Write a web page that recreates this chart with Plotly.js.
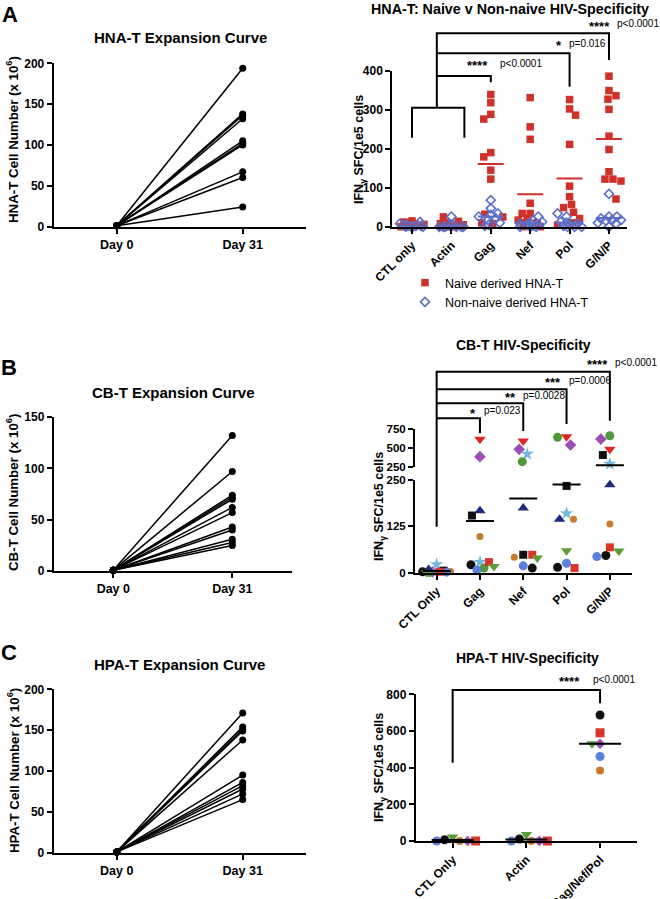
<!DOCTYPE html>
<html><head><meta charset="utf-8">
<script src="https://cdn.plot.ly/plotly-3.0.1.min.js"></script>
<style>html,body{margin:0;padding:0;background:#fff}#chart{width:660px;height:899px}</style>
</head><body><div id="chart"></div>
<script>
// ---------------- DATA ----------------
const days = ['Day 0', 'Day 31'];
const hnaDay0  = [1, 1, 1, 1, 1, 1, 1, 1, 1, 1];
const hnaDay31 = [194, 138, 136, 132, 105, 102, 100, 67, 60, 24];
const cbDay0   = [1, 1, 1, 1, 1, 1, 1, 1, 1, 1, 1, 1];
const cbDay31  = [132, 97, 74, 72, 70, 62, 57, 43, 40, 31, 28, 25];
const hpaDay0  = [1, 1, 1, 1, 1, 1, 1, 1, 1, 1, 1];
const hpaDay31 = [171, 154, 151, 149, 138, 95, 86, 82, 78, 72, 65];

const hnaCategories = ['CTL only', 'Actin', 'Gag', 'Nef', 'Pol', 'G/N/P'];
const naiveCtl   = [15, 12, 10, 8, 6, 5, 3, 2, 2, 0, 0, 0];
const naiveActin = [25, 14, 10, 8, 5, 4, 3, 2, 0, 0, 0, 0];
const naiveGag   = [339, 318, 288, 276, 190, 179, 145, 122, 32, 25, 10, 8];
const naiveNef   = [331, 256, 224, 60, 34, 34, 21, 17, 10, 10, 0, 0];
const naivePol   = [326, 302, 286, 211, 104, 77, 57, 49, 37, 21, 10, 4];
const naiveGnp   = [386, 349, 336, 327, 301, 232, 198, 141, 122, 122, 117, 71];
const nonNaiveCtl   = [12, 8, 5, 3, 2, 2, 0, 0, 0, 0];
const nonNaiveActin = [26, 6, 4, 2, 0, 0, 0, 0, 0, 0];
const nonNaiveGag   = [68, 47, 34, 30, 26, 21, 17, 10, 5, 2];
const nonNaiveNef   = [26, 17, 12, 10, 8, 5, 3, 0, 0, 0];
const nonNaivePol   = [34, 26, 12, 10, 8, 5, 2, 0, 0, 0];
const nonNaiveGnp   = [84, 26, 26, 21, 17, 17, 15, 10, 8, 0];

const cbCategories = ['CTL Only', 'Gag', 'Nef', 'Pol', 'G/N/P'];
// donor order: black circle, red tri-down, purple diamond, sky star, green circle,
// black square, navy tri-up, orange circle, blue circle, red square, green tri-down
const cbCtl = [2, 3, 2, 22, 0, 5, 8, 3, 1, 2, 0];
const cbGag = [21, 612, 388, 28, 12, 154, 167, 97, 7, 28, 16];
const cbNef = [12, 590, 483, 422, 323, 48, 174, 41, 18, 48, 39];
const cbPol = [14, 647, 539, 160, 638, 234, 144, 144, 25, 12, 59];
const cbGnp = [46, 483, 616, 293, 659, 409, 237, 131, 43, 68, 58];

const hpaCategories = ['CTL Only', 'Actin', 'Gag/Nef/Pol'];
// donor order: black circle, orange circle, purple diamond, blue circle, red square, green tri-down
const hpaCtl   = [7, 0, 0, 0, 0, 22];
const hpaActin = [11, 0, 0, 0, 0, 35];
const hpaGnp   = [687, 384, 530, 461, 590, 530];

// ---------------- STYLE / GEOMETRY ----------------
const FONT = 'Liberation Sans, Arial, Helvetica, sans-serif';
const W = 660, H = 899;
const px = p => p / W;
const py = p => 1 - p / H;
const mean = a => a.reduce((s, v) => s + v, 0) / a.length;

const G = {
  aL: {x: [53.7, 305.7], xr: [-0.5, 1.5], y: [63.3, 226.5], yr: [0, 200]},
  aR: {x: [392.3, 626.7], xr: [-0.5, 5.45], y: [70.7, 226.7], yr: [0, 400]},
  bL: {x: [53.8, 291.8], xr: [-0.5, 1.5], y: [417, 571.2], yr: [0, 150]},
  bR: {x: [415, 631.5], xr: [-0.5, 4.5], y: [480, 572.5], yr: [0, 250]},
  bRu: {y: [428.7, 467.3], yr: [250, 750]},
  cL: {x: [53.7, 305.7], xr: [-0.5, 1.5], y: [689.3, 852.7], yr: [0, 200]},
  cR: {x: [415.8, 636.9], xr: [-0.5, 2.5], y: [694.3, 841], yr: [0, 800]}
};
const yPix = (g, v) => g.y[1] - (v - g.yr[0]) / (g.yr[1] - g.yr[0]) * (g.y[1] - g.y[0]);
const pxPerCat = g => (g.x[1] - g.x[0]) / (g.xr[1] - g.xr[0]);

function swarm(ys, diam, maxHalf) {
  const order = ys.map((y, i) => i).sort((a, b) => ys[a] - ys[b]);
  const off = new Array(ys.length).fill(0);
  const placed = [];
  order.forEach((i, n) => {
    let best = 0, bestD = -1, found = false;
    for (let k = 0; k <= maxHalf && !found; k += 1) {
      const cands = k === 0 ? [0] : (n % 2 ? [-k, k] : [k, -k]);
      for (const s of cands) {
        let m = Infinity;
        for (const p of placed) m = Math.min(m, Math.hypot(p.x - s, p.y - ys[i]));
        if (m >= diam) { best = s; found = true; break; }
        if (m > bestD + 0.75) { bestD = m; best = s; }
      }
    }
    off[i] = best; placed.push({x: best, y: ys[i]});
  });
  return off;
}

const traces = [];
const noHover = {hoverinfo: 'skip', cliponaxis: false};

// ---------- left expansion panels ----------
function expansion(d0, d31, xa, ya) {
  d0.forEach((v, i) => traces.push(Object.assign({
    type: 'scatter', mode: 'lines+markers', x: days, y: [v, d31[i]], xaxis: xa, yaxis: ya,
    line: {color: '#000', width: 1.5}, marker: {color: '#000', size: 7}, showlegend: false
  }, noHover)));
}
expansion(hnaDay0, hnaDay31, 'x', 'y');
expansion(cbDay0, cbDay31, 'x3', 'y3');
expansion(hpaDay0, hpaDay31, 'x5', 'y6');

// ---------- A right ----------
const naive = [naiveCtl, naiveActin, naiveGag, naiveNef, naivePol, naiveGnp];
const nonNaive = [nonNaiveCtl, nonNaiveActin, nonNaiveGag, nonNaiveNef, nonNaivePol, nonNaiveGnp];
const RED = '#cf302a', BLUE = '#5b6fc8';
{
  const g = G.aR, ppc = pxPerCat(g);
  const nx = [], ny = [], bx = [], by = [];
  naive.forEach((arr, c) => {
    const all = arr.concat(nonNaive[c]);
    const offs = swarm(all.map(v => yPix(g, v)), 8, 12);
    all.forEach((v, i) => {
      if (i < arr.length) { nx.push(c + offs[i] / ppc); ny.push(v); }
      else { bx.push(c + offs[i] / ppc); by.push(v); }
    });
  });
  traces.push(Object.assign({type: 'scatter', mode: 'markers', x: nx, y: ny, xaxis: 'x2', yaxis: 'y2',
    name: 'Naive derived HNA-T', marker: {symbol: 'square', size: 7.5, color: RED}, showlegend: true}, noHover));
  traces.push(Object.assign({type: 'scatter', mode: 'markers', x: bx, y: by, xaxis: 'x2', yaxis: 'y2',
    name: 'Non-naive derived HNA-T', marker: {symbol: 'diamond-open', size: 7, color: BLUE, line: {width: 1.6, color: BLUE}}, showlegend: true}, noHover));
  const half = 13 / ppc;
  naive.forEach((arr, c) => {
    [[arr, RED], [nonNaive[c], BLUE]].forEach(([a, col]) => {
      const m = mean(a);
      traces.push(Object.assign({type: 'scatter', mode: 'lines', x: [c - half, c + half], y: [m, m],
        xaxis: 'x2', yaxis: 'y2', line: {color: col, width: 2}, showlegend: false}, noHover));
    });
  });
}

// ---------- B right ----------
const cbValues = [cbCtl, cbGag, cbNef, cbPol, cbGnp];
const cbStyle = [
  {symbol: 'circle', color: '#111111', size: 9},
  {symbol: 'triangle-down', color: '#e0261f', size: 10},
  {symbol: 'diamond', color: '#9a4fb7', size: 9},
  {symbol: 'star', color: '#74b8dc', size: 10},
  {symbol: 'circle', color: '#4f9a38', size: 9},
  {symbol: 'square', color: '#111111', size: 8},
  {symbol: 'triangle-up', color: '#1f2b7a', size: 10},
  {symbol: 'circle', color: '#c77a2e', size: 7},
  {symbol: 'circle', color: '#5b7fdc', size: 9},
  {symbol: 'square', color: '#d9352a', size: 8},
  {symbol: 'triangle-down', color: '#5b9e35', size: 10}
];
{
  const g = G.bR, gu = Object.assign({}, G.bRu), ppc = pxPerCat(g);
  const yB = v => v >= 250 ? yPix(gu, v) : yPix(g, v);
  const offs = cbValues.map(arr => swarm(arr.map(yB), 9, 14));
  cbStyle.forEach((st, d) => {
    const lx = [], ly = [], ux = [], uy = [];
    cbValues.forEach((arr, c) => {
      const v = arr[d], x = c + offs[c][d] / ppc;
      if (v >= 250) { ux.push(x); uy.push(v); } else { lx.push(x); ly.push(v); }
    });
    const mk = {symbol: st.symbol, color: st.color, size: st.size};
    traces.push(Object.assign({type: 'scatter', mode: 'markers', x: lx, y: ly, xaxis: 'x4', yaxis: 'y4', marker: mk, showlegend: false}, noHover));
    traces.push(Object.assign({type: 'scatter', mode: 'markers', x: ux, y: uy, xaxis: 'x4', yaxis: 'y5', marker: mk, showlegend: false}, noHover));
  });
  const half = 14 / ppc;
  cbValues.forEach((arr, c) => {
    const m = mean(arr);
    traces.push(Object.assign({type: 'scatter', mode: 'lines', x: [c - half, c + half], y: [m, m],
      xaxis: 'x4', yaxis: m >= 250 ? 'y5' : 'y4', line: {color: '#000', width: 2}, showlegend: false}, noHover));
  });
}

// ---------- C right ----------
const hpaValues = [hpaCtl, hpaActin, hpaGnp];
const hpaStyle = [
  {symbol: 'circle', color: '#111111', size: 9},
  {symbol: 'circle', color: '#c9782c', size: 8},
  {symbol: 'diamond', color: '#9a4fb7', size: 8},
  {symbol: 'circle', color: '#5b7fdc', size: 9},
  {symbol: 'square', color: '#d9352a', size: 9},
  {symbol: 'triangle-down', color: '#5b9e35', size: 10}
];
{
  const g = G.cR, ppc = pxPerCat(g);
  const offs = hpaValues.map(arr => swarm(arr.map(v => yPix(g, v)), 8, 26));
  hpaStyle.forEach((st, d) => {
    traces.push(Object.assign({type: 'scatter', mode: 'markers',
      x: hpaValues.map((arr, c) => c + offs[c][d] / ppc), y: hpaValues.map(arr => arr[d]),
      xaxis: 'x6', yaxis: 'y7', marker: {symbol: st.symbol, color: st.color, size: st.size}, showlegend: false}, noHover));
  });
  const half = 21 / ppc;
  hpaValues.forEach((arr, c) => {
    const m = mean(arr);
    traces.push(Object.assign({type: 'scatter', mode: 'lines', x: [c - half, c + half], y: [m, m],
      xaxis: 'x6', yaxis: 'y7', line: {color: '#000', width: 2}, showlegend: false}, noHover));
  });
}

// ---------------- LAYOUT ----------------
function baseAxis(size) {
  return {showgrid: false, zeroline: false, showline: true, linecolor: '#000', linewidth: 2,
    ticks: 'outside', ticklen: 5, tickwidth: 2, tickcolor: '#000', fixedrange: true,
    tickfont: {family: FONT, size: size, color: '#000', weight: 'bold'}};
}
function xAx(g, anchor, size, extra) {
  return Object.assign(baseAxis(size), {domain: [px(g.x[0]), px(g.x[1])], range: g.xr, anchor: anchor}, extra || {});
}
function yAx(g, anchor, size, tickvals, extra) {
  return Object.assign(baseAxis(size), {domain: [py(g.y[1]), py(g.y[0])], range: g.yr, anchor: anchor,
    tickmode: 'array', tickvals: tickvals, ticktext: tickvals.map(String)}, extra || {});
}
const catX = (cats) => ({type: 'linear', tickmode: 'array', tickvals: cats.map((c, i) => i), ticktext: cats, tickangle: -45});
const dayX = {type: 'category', categoryarray: days, categoryorder: 'array'};

const layout = {
  width: W, height: H, autosize: false, margin: {l: 0, r: 0, t: 0, b: 0},
  paper_bgcolor: '#fff', plot_bgcolor: 'rgba(0,0,0,0)',
  font: {family: FONT, color: '#000'},
  xaxis: xAx(G.aL, 'y', 12.5, dayX),
  yaxis: yAx(G.aL, 'x', 12, [0, 50, 100, 150, 200]),
  xaxis2: xAx(G.aR, 'y2', 12, catX(hnaCategories)),
  yaxis2: yAx(G.aR, 'x2', 12, [0, 100, 200, 300, 400]),
  xaxis3: xAx(G.bL, 'y3', 12.5, dayX),
  yaxis3: yAx(G.bL, 'x3', 12, [0, 50, 100, 150]),
  xaxis4: xAx(G.bR, 'y4', 12, catX(cbCategories)),
  yaxis4: yAx(G.bR, 'x4', 11.5, [0, 125, 250]),
  yaxis5: Object.assign(baseAxis(11.5), {domain: [py(G.bRu.y[1]), py(G.bRu.y[0])], range: G.bRu.yr, anchor: 'x4',
    tickmode: 'array', tickvals: [250, 500, 750], ticktext: ['250', '500', '750']}),
  xaxis5: xAx(G.cL, 'y6', 12.5, dayX),
  yaxis6: yAx(G.cL, 'x5', 12, [0, 50, 100, 150, 200]),
  xaxis6: xAx(G.cR, 'y7', 12, catX(hpaCategories)),
  yaxis7: yAx(G.cR, 'x6', 12, [0, 200, 400, 600, 800]),
  showlegend: true,
  legend: {x: px(405), y: py(268), xanchor: 'left', yanchor: 'top', bgcolor: 'rgba(0,0,0,0)',
    font: {family: FONT, size: 12.5, color: '#000'}, tracegroupgap: 0},
  shapes: [],
  annotations: []
};

// brackets: x in category units, y in pixels
function bracket(xref, pts) {
  const d = pts.map((p, i) => (i ? 'L' : 'M') + p[0] + ',' + py(p[1])).join(' ');
  layout.shapes.push({type: 'path', xref: xref, yref: 'paper', path: d, line: {color: '#000', width: 2}});
}
bracket('x2', [[0, 137.7], [0, 107.7], [1.33, 107.7], [1.33, 137.7]]);
bracket('x2', [[0.63, 107.7], [0.63, 33.3], [5, 33.3], [5, 60]]);
bracket('x2', [[0.63, 53.3], [4, 53.3], [4, 86.7]]);
bracket('x2', [[0.63, 76], [2, 76], [2, 82.3]]);
bracket('x4', [[0, 526.7], [0, 371.7], [4, 371.7], [4, 420.7]]);
bracket('x4', [[0, 389.3], [3, 389.3], [3, 424]]);
bracket('x4', [[0, 403.3], [2, 403.3], [2, 431]]);
bracket('x4', [[0, 418.3], [1, 418.3], [1, 433.3]]);
bracket('x6', [[0, 762.7], [0, 690], [2, 690], [2, 703.3]]);

function txt(text, xp, yp, size, opts) {
  layout.annotations.push(Object.assign({text: text, x: px(xp), y: py(yp), xref: 'paper', yref: 'paper',
    showarrow: false, font: {family: FONT, size: size, color: '#000'}, xanchor: 'center', yanchor: 'middle'}, opts || {}));
}
// panel letters
txt('<b>A</b>', 10, 15, 22);
txt('<b>B</b>', 9, 368, 22);
txt('<b>C</b>', 9, 652, 22);
// titles
txt('<b>HNA-T Expansion Curve</b>', 180, 38, 15);
txt('<b>HNA-T: Naive v Non-naive HIV-Specificity</b>', 510, 8.5, 14.3);
txt('<b>CB-T HIV-Specificity</b>', 523, 345, 14);
txt('<b>CB-T Expansion Curve</b>', 173, 393, 15);
txt('<b>HPA-T Expansion Curve</b>', 179, 664, 15);
txt('<b>HPA-T HIV-Specificity</b>', 527, 658, 14);
// axis titles
txt('<b>HNA-T Cell Number (x 10<sup>6</sup>)</b>', 13, 140, 13.3, {textangle: -90});
txt('<b>CB-T Cell Number (x 10<sup>6</sup>)</b>', 13, 493, 13.3, {textangle: -90});
txt('<b>HPA-T Cell Number (x 10<sup>6</sup>)</b>', 13, 771, 13.3, {textangle: -90});
txt('<b>IFN<sub>γ</sub> SFC/1e5 cells</b>', 360, 150, 12.5, {textangle: -90});
txt('<b>IFN<sub>γ</sub> SFC/1e5 cells</b>', 380, 507, 12.5, {textangle: -90});
txt('<b>IFN<sub>γ</sub> SFC/1e5 cells</b>', 380, 768, 12.5, {textangle: -90});
// significance labels
function sig(stars, starRight, pText, pLeft, yp) {
  txt('<b>' + stars + '</b>', starRight, yp + 2.5, 13, {xanchor: 'right'});
  txt(pText, pLeft, yp, 10, {xanchor: 'left'});
}
sig('****', 612, 'p<0.0001', 615, 24);
sig('*', 564, 'p=0.016', 567, 43.3);
sig('****', 490, 'p<0.0001', 498, 63.3);
sig('****', 610, 'p<0.0001', 613, 362.3);
sig('***', 563, 'p=0.0006', 567, 380);
sig('**', 518, 'p=0.0028', 521, 395);
sig('*', 478, 'p=0.023', 482, 410.7);
sig('****', 582, 'p<0.0001', 591, 679);

Plotly.newPlot('chart', traces, layout, {staticPlot: true, displayModeBar: false});
</script>
</body></html>
